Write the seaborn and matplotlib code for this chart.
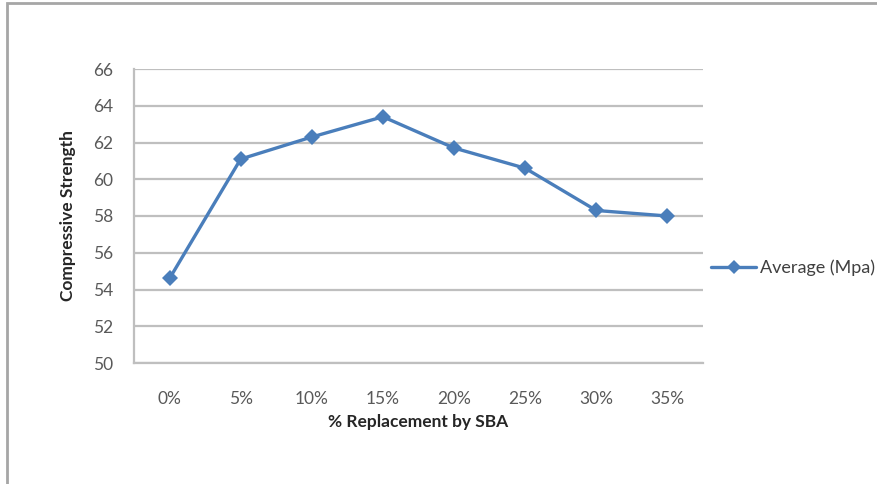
import numpy as np
import pandas as pd
import matplotlib
matplotlib.use("Agg")
import matplotlib.pyplot as plt
from matplotlib.patches import Rectangle
import seaborn as sns

# Data
replacement = ["0%", "5%", "10%", "15%", "20%", "25%", "30%", "35%"]
average_mpa = [54.6, 61.1, 62.3, 63.4, 61.7, 60.6, 58.3, 58.0]
y_ticks = [50, 52, 54, 56, 58, 60, 62, 64, 66]
series_name = "Average (Mpa)"

df = pd.DataFrame({
    "pos": np.arange(len(replacement)),
    "label": replacement,
    "value": average_mpa,
    "series": series_name,
})

sns.set_theme(style="white")
plt.rcParams["font.family"] = ["Lato", "DejaVu Sans"]

line_color = "#4A7EBB"
grid_color = "#BFBFBF"
tick_color = "#595959"

fig = plt.figure(figsize=(8.78, 4.84), dpi=100)
ax = fig.add_axes([134 / 878, 1 - 363 / 484, (703 - 134) / 878, (363 - 69) / 484])

sns.lineplot(data=df, x="pos", y="value", hue="series", palette=[line_color],
             marker="D", markersize=8, markeredgewidth=0, linewidth=2.4,
             ax=ax, legend=True)

ax.set_xlim(-0.5, len(replacement) - 0.5)
ax.set_ylim(y_ticks[0], y_ticks[-1])
ax.set_yticks(y_ticks)
ax.set_xticks(df["pos"])
ax.set_xticklabels(replacement)

ax.grid(axis="y", color=grid_color, linewidth=1.6)
ax.grid(axis="x", visible=False)
ax.set_axisbelow(True)
for side in ["top", "right"]:
    ax.spines[side].set_visible(False)
ax.spines["left"].set_color(grid_color)
ax.spines["left"].set_linewidth(1.6)
ax.spines["bottom"].set_color(grid_color)
ax.spines["bottom"].set_linewidth(1.6)

ax.tick_params(axis="y", length=0, pad=15, labelsize=12.5, labelcolor=tick_color)
ax.tick_params(axis="x", length=0, pad=20, labelsize=12.5, labelcolor=tick_color)

ax.set_xlabel("% Replacement by SBA", fontsize=12.5, fontweight="bold",
              color="#262626", labelpad=5)
ax.set_ylabel("Compressive Strength", fontsize=12.5, fontweight="bold",
              color="#262626", labelpad=12)

leg = ax.legend(loc="center left", bbox_to_anchor=(711 / 878, 1 - 268 / 484),
                bbox_transform=fig.transFigure, frameon=False, fontsize=13,
                handlelength=2.5, handletextpad=0.2, borderaxespad=0,
                borderpad=0, markerscale=0.85)
for t in leg.get_texts():
    t.set_color("#404040")

# Chart area border (top and left edges visible)
fig.patches.append(Rectangle((7 / 878, -0.1), 1.0, 1 - 3 / 484 + 0.1,
                             transform=fig.transFigure, fill=False,
                             edgecolor="#A6A6A6", linewidth=2, zorder=10))

fig.savefig("out.png", dpi=100)
